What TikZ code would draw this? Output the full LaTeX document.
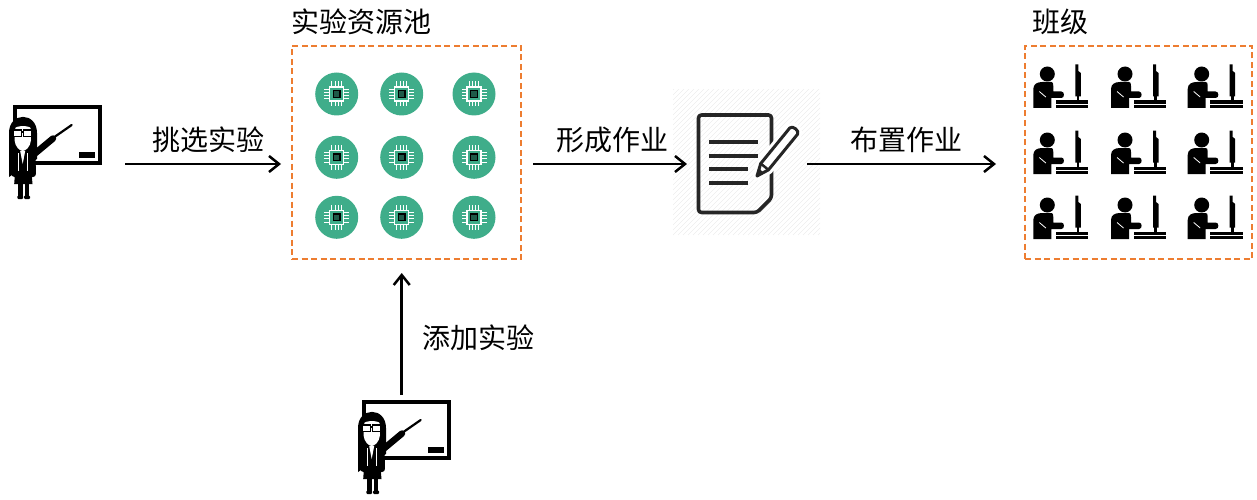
\documentclass[tikz,border=0pt]{standalone}
\usepackage{fontspec}
\newfontfamily\cjk{Noto Sans CJK SC}
\usetikzlibrary{arrows.meta}
\definecolor{poolorange}{HTML}{ED7D31}
\definecolor{chipteal}{HTML}{3FAD8A}
\definecolor{chipdark}{HTML}{1F5A48}
\definecolor{docgray}{HTML}{252525}
\tikzset{
  arr/.style={line width=2.5pt, -{Straight Barb[length=10pt,width=16pt]}},
  lbl/.style={font=\cjk\fontsize{28}{28}\selectfont, inner sep=0pt},
  dashbox/.style={draw=poolorange, line width=2pt, dash pattern=on 6pt off 3.5pt, inner sep=0pt},
  ghost/.style={inner sep=0pt, outer sep=0pt},
  % a teacher pointing at a board; origin = board top-left corner
  teacher/.pic={
    \draw[line width=3.3pt, line join=miter] (0,0) rectangle (85,56);
    \fill (64.3,45.3) rectangle (80,50.7);
    % arm and pointer
    \draw[line width=6.5pt, line cap=round] (17,49) -- (38,31.5);
    \draw[line width=2.2pt, line cap=round] (38,31) -- (56.7,18);
    % long hair
    \fill (-6,70) -- (-6,26) .. controls (-6,4.5) and (22,4.5) .. (22,26) -- (22,52) -- cycle;
    % face
    \fill[white] (0.3,21) .. controls (2,18.5) and (14,18.5) .. (15.5,21)
      -- (16,33) .. controls (15.5,40) and (10.5,44) .. (7.7,44)
      .. controls (5,44) and (0,40) .. (-0.5,33) -- cycle;
    % glasses
    \draw[line width=1.3pt, fill=white] (-1.5,23) rectangle (6.6,29.5);
    \draw[line width=1.3pt, fill=white] (8.6,23) rectangle (16.8,29.5);
    \draw[line width=1.3pt] (6.6,25) -- (8.6,25);
    % jacket with shirt opening
    \fill[rounded corners=3pt] (-3.5,70) -- (-3.5,47) -- (1,44) -- (15,44) -- (20.5,47) -- (21,70) -- cycle;
    \fill[white] (5.2,44) -- (10.2,44) -- (7.7,57) -- cycle;
    \draw[white, line width=0.7pt] (3.5,46) -- (3.5,64);
    \draw[white, line width=0.7pt] (12,46) -- (12,64);
    % skirt and legs
    \fill (0,66) -- (16.5,66) -- (17.5,77) -- (-0.8,77) -- cycle;
    \fill (3,76) rectangle (7.6,90);
    \fill (9.8,76) rectangle (14.4,90);
    \fill[rounded corners=1pt] (2.4,88.5) rectangle (8.2,92);
    \fill[rounded corners=1pt] (9.2,88.5) rectangle (15,92);
  },
  % a green chip badge; origin = centre
  chip/.pic={
    \fill[chipteal] (0,0) circle[radius=21.5pt];
    \foreach \p in {-4.8,-1.6,1.6,4.8}{
      \draw[white, line width=1pt] (\p,-7) -- (\p,-12.5);
      \draw[white, line width=1pt] (\p,7) -- (\p,12.5);
      \draw[white, line width=1pt] (-7,\p) -- (-12.5,\p);
      \draw[white, line width=1pt] (7,\p) -- (12.5,\p);
    }
    \draw[white, line width=1.3pt, fill=chipteal] (-7,-7) rectangle (7,7);
    \draw[black, line width=1.3pt, fill=chipdark] (-3.4,-3.4) rectangle (3.4,3.4);
  },
  % a student at a computer; origin = head centre
  student/.pic={
    \fill (0,0) circle[radius=7.5pt];
    \fill (-14,34) -- (-14,15) .. controls (-14,10) and (-10,8) .. (-5,8)
      -- (4,8) .. controls (5.5,8) and (6,9) .. (6,12) -- (6,17.5)
      -- (14,17.5) .. controls (17.5,17.5) and (17.5,24) .. (14,24)
      -- (4,24) -- (4,34) -- cycle;
    \draw[white, line width=0.8pt] (-8,17.5) -- (-1.5,23);
    \fill (28,-9.5) -- (31,-9.5) -- (31,-3) -- (33.5,-1) -- (33.5,22.5) -- (28,22.5) -- cycle;
    \fill (29.2,22) rectangle (32,27);
    \fill (8.5,26.5) rectangle (41,29.8);
    \fill (8.5,31.3) rectangle (41,34.3);
  }
}
\begin{document}
\begin{tikzpicture}[x=1pt, y=-1pt]
\useasboundingbox (0,0) rectangle (1257,500);

% ---- resource pool ----
\node[dashbox, minimum width=229pt, minimum height=213pt] (pool) at (406.5,152.5) {};
\node[lbl] (poolT) at (361,22) {实验资源池};
\foreach \r/\y in {1/94,2/157.3,3/217.3}{
  \foreach \c/\x in {1/336.7,2/401.7,3/474}{
    \node[ghost, minimum size=43pt] (c\r\c) at (\x,\y) {};
    \pic at (c\r\c.center) {chip};
  }
}

% ---- class ----
\node[dashbox, minimum width=227pt, minimum height=213pt] (cls) at (1138.5,152.5) {};
\node[lbl] (clsT) at (1060,22) {班级};
\foreach \r/\y in {1/74,2/140,3/205}{
  \foreach \c/\x in {1/1047.3,2/1125,3/1201.7}{
    \coordinate (s\r\c) at (\x,\y);
    \pic at (s\r\c) {student};
  }
}

% ---- teachers ----
\node[ghost, minimum width=85pt, minimum height=56pt] (tA) at (57.5,135) {};
\pic at (tA.north west) {teacher};
\node[ghost, minimum width=86pt, minimum height=56pt] (tB) at (407,430) {};
\pic at (tB.north west) {teacher};

% ---- assignment sheet ----
\begin{scope}
  \clip (673,90) rectangle (820,235);
  \foreach \i in {-150,-145,...,150}
    \draw[black!7, line width=0.6pt] (673+\i,235) -- ++(150,-150);
\end{scope}
\node[ghost, minimum width=74pt, minimum height=98pt] (doc) at (735,164) {};
\draw[docgray, line width=3.6pt, rounded corners=3pt, line join=round]
  (698.5,115) -- (771.5,115) -- (771.5,198) -- (757,212.5) -- (698.5,212.5) -- cycle;
\foreach \y/\xe in {141.7/758,155.7/758,169.3/748,183.3/748}
  \draw[docgray, line width=3.8pt] (709,\y) -- (\xe,\y);
% pencil, with a white margin over the sheet edge
\path[fill=white, draw=white, line width=9pt, line join=round]
  (757,176) -- (768.45,169.87) -- (797.53,134.27)
  .. controls (800.06,131.17) and (792.32,124.85) .. (789.79,127.95)
  -- (760.71,163.55) -- cycle;
\draw[docgray, fill=white, line width=3pt, line join=round]
  (757,176) -- (768.45,169.87) -- (797.53,134.27)
  .. controls (800.06,131.17) and (792.32,124.85) .. (789.79,127.95)
  -- (760.71,163.55) -- cycle;
\draw[docgray, line width=2.5pt] (768.45,169.87) -- (760.71,163.55);
\fill[docgray] (757,176) -- (763,172.5) -- (759.5,168.5) -- cycle;

% ---- flow arrows ----
\draw[arr, shorten <=25pt, shorten >=10pt] (tA.east |- doc.center) -- (pool.west |- doc.center);
\node[lbl] (l1) at (208,140) {挑选实验};
\draw[arr, shorten <=11pt, shorten >=11pt] (pool.east |- doc.center) -- (doc.west);
\node[lbl] (l2) at (612,140) {形成作业};
\draw[arr, shorten <=35pt, shorten >=28pt] (doc.east) -- (cls.west |- doc.center);
\node[lbl] (l3) at (906,140) {布置作业};
\draw[arr, shorten <=7pt, shorten >=13pt] (tB.north -| c32.center) -- (pool.south -| c32.center);
\node[lbl] (l4) at (478,338) {添加实验};
\end{tikzpicture}
\end{document}
